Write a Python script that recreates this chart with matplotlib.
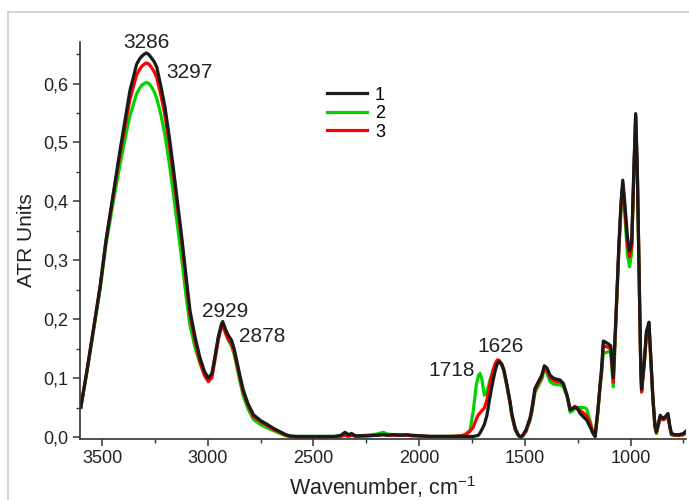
import matplotlib
matplotlib.use("Agg")
import matplotlib.pyplot as plt
from matplotlib.ticker import MultipleLocator, FuncFormatter
from matplotlib.lines import Line2D

plt.rcParams['font.family'] = ['Liberation Sans', 'DejaVu Sans']
plt.rcParams['mathtext.fontset'] = 'custom'
plt.rcParams['mathtext.rm'] = 'Liberation Sans'
plt.rcParams['mathtext.it'] = 'Liberation Sans'

# wavenumber grid, cm-1
wavenumber = [
    3600, 3570, 3541, 3509, 3481, 3450, 3415, 3390, 3368, 3336,
    3322, 3310, 3300, 3290, 3278, 3265, 3253, 3241, 3220, 3202, 3180, 3163, 3140, 3123,
    3100, 3084, 3060, 3037, 3015, 2997, 2980, 2966, 2950, 2935,
    2929, 2915, 2903, 2887, 2875, 2863, 2845, 2832, 2810, 2784,
    2750, 2721, 2690, 2658, 2630, 2611, 2580, 2500, 2400, 2370,
    2351, 2335, 2320, 2300, 2250, 2200, 2170, 2150, 2120, 2090,
    2060, 2030, 2000, 1950, 1900, 1850, 1800, 1780, 1759, 1744,
    1730, 1720, 1712, 1703, 1692, 1680, 1665, 1650, 1640, 1630,
    1621, 1610, 1600, 1586, 1570, 1562, 1545, 1530, 1520, 1510,
    1495, 1476, 1468, 1452, 1436, 1420, 1408, 1395, 1381, 1365,
    1349, 1334, 1318, 1300, 1286, 1275, 1263, 1250, 1239, 1220,
    1208, 1190, 1180, 1168, 1155, 1145, 1137, 1129, 1118, 1105,
    1094, 1082, 1070, 1055, 1045, 1037, 1028, 1015, 1005, 995,
    985, 976, 968, 960, 952, 948, 935, 925, 913, 905,
    895, 885, 878, 868, 860, 850, 844, 835, 823, 815,
    807, 790, 770, 750, 738,
]

# sample 1 (black)
atr_1 = [
    0.051, 0.115, 0.181, 0.255, 0.334, 0.405, 0.486, 0.540, 0.588, 0.633,
    0.642, 0.647, 0.650, 0.652, 0.649, 0.643, 0.637, 0.628, 0.593, 0.560, 0.505, 0.458, 0.391, 0.340,
    0.265, 0.215, 0.170, 0.135, 0.111, 0.100, 0.108, 0.136, 0.170, 0.192,
    0.196, 0.182, 0.173, 0.164, 0.150, 0.130, 0.100, 0.080, 0.057, 0.038,
    0.028, 0.022, 0.015, 0.009, 0.004, 0.002, 0.001, 0.001, 0.001, 0.003,
    0.008, 0.004, 0.006, 0.002, 0.002, 0.003, 0.004, 0.003, 0.004, 0.003,
    0.004, 0.003, 0.002, 0.001, 0.001, 0.001, 0.001, 0.001, 0.001, 0.001,
    0.002, 0.003, 0.007, 0.013, 0.021, 0.036, 0.068, 0.097, 0.113, 0.125,
    0.128, 0.124, 0.115, 0.091, 0.060, 0.040, 0.014, 0.003, 0.000, 0.003,
    0.012, 0.032, 0.046, 0.083, 0.094, 0.105, 0.121, 0.117, 0.105, 0.100,
    0.098, 0.097, 0.091, 0.070, 0.046, 0.048, 0.051, 0.047, 0.040, 0.033,
    0.029, 0.016, 0.008, 0.001, 0.045, 0.085, 0.118, 0.163, 0.161, 0.158,
    0.155, 0.101, 0.200, 0.330, 0.400, 0.436, 0.400, 0.340, 0.316, 0.330,
    0.450, 0.549, 0.450, 0.280, 0.120, 0.081, 0.130, 0.180, 0.195, 0.140,
    0.070, 0.020, 0.009, 0.025, 0.037, 0.032, 0.032, 0.035, 0.040, 0.020,
    0.006, 0.004, 0.004, 0.006, 0.010,
]

# sample 2 (green)
atr_2 = [
    0.050, 0.113, 0.178, 0.250, 0.326, 0.392, 0.462, 0.508, 0.545, 0.583,
    0.592, 0.598, 0.600, 0.602, 0.600, 0.594, 0.586, 0.575, 0.545, 0.512, 0.460, 0.415, 0.350, 0.302,
    0.232, 0.190, 0.152, 0.125, 0.106, 0.098, 0.106, 0.134, 0.168, 0.188,
    0.192, 0.176, 0.165, 0.154, 0.140, 0.120, 0.090, 0.070, 0.048, 0.030,
    0.021, 0.016, 0.011, 0.006, 0.002, 0.001, 0.001, 0.001, 0.001, 0.002,
    0.004, 0.002, 0.003, 0.002, 0.003, 0.005, 0.008, 0.005, 0.004, 0.004,
    0.003, 0.002, 0.002, 0.001, 0.001, 0.001, 0.002, 0.005, 0.012, 0.045,
    0.088, 0.104, 0.108, 0.097, 0.071, 0.076, 0.097, 0.114, 0.123, 0.129,
    0.128, 0.122, 0.112, 0.087, 0.056, 0.036, 0.011, 0.002, 0.000, 0.002,
    0.009, 0.028, 0.040, 0.076, 0.087, 0.098, 0.116, 0.108, 0.094, 0.090,
    0.089, 0.089, 0.085, 0.068, 0.042, 0.044, 0.049, 0.050, 0.050, 0.050,
    0.048, 0.025, 0.008, 0.001, 0.040, 0.082, 0.108, 0.145, 0.143, 0.145,
    0.144, 0.085, 0.190, 0.320, 0.390, 0.425, 0.380, 0.310, 0.289, 0.312,
    0.440, 0.545, 0.445, 0.275, 0.115, 0.076, 0.125, 0.175, 0.188, 0.135,
    0.066, 0.017, 0.006, 0.021, 0.033, 0.030, 0.029, 0.031, 0.034, 0.017,
    0.004, 0.003, 0.003, 0.004, 0.008,
]

# sample 3 (red)
atr_3 = [
    0.051, 0.115, 0.181, 0.255, 0.333, 0.403, 0.480, 0.530, 0.573, 0.615,
    0.624, 0.630, 0.633, 0.635, 0.633, 0.627, 0.620, 0.610, 0.578, 0.546, 0.492, 0.447, 0.382, 0.333,
    0.258, 0.208, 0.163, 0.128, 0.104, 0.094, 0.101, 0.130, 0.165, 0.187,
    0.190, 0.176, 0.166, 0.158, 0.145, 0.125, 0.096, 0.076, 0.054, 0.035,
    0.026, 0.020, 0.013, 0.008, 0.003, 0.001, 0.000, 0.000, 0.000, 0.001,
    0.003, 0.001, 0.003, 0.001, 0.002, 0.003, 0.004, 0.003, 0.003, 0.003,
    0.003, 0.002, 0.002, 0.001, 0.001, 0.001, 0.002, 0.004, 0.010, 0.017,
    0.030, 0.038, 0.041, 0.045, 0.049, 0.062, 0.091, 0.113, 0.125, 0.131,
    0.130, 0.124, 0.114, 0.090, 0.058, 0.038, 0.012, 0.002, 0.000, 0.002,
    0.010, 0.030, 0.043, 0.080, 0.091, 0.102, 0.118, 0.113, 0.101, 0.096,
    0.094, 0.094, 0.089, 0.070, 0.047, 0.049, 0.052, 0.049, 0.045, 0.040,
    0.036, 0.022, 0.010, 0.001, 0.043, 0.086, 0.112, 0.155, 0.154, 0.152,
    0.150, 0.093, 0.195, 0.325, 0.395, 0.430, 0.392, 0.328, 0.306, 0.322,
    0.445, 0.545, 0.447, 0.277, 0.118, 0.077, 0.126, 0.176, 0.190, 0.137,
    0.068, 0.018, 0.007, 0.022, 0.034, 0.030, 0.030, 0.032, 0.036, 0.018,
    0.004, 0.003, 0.003, 0.004, 0.008,
]

series_labels = ['1', '2', '3']
series_colors = ['#1a1a1a', '#00d400', '#ff0000']

fig = plt.figure(figsize=(6.89, 5.0), dpi=100)
ax = fig.add_axes([80 / 689, 1 - 438.5 / 500, 606 / 689, 396.5 / 500])

# draw green, red, then black on top; legend in order 1, 2, 3
lw = 2.3
h2, = ax.plot(wavenumber, atr_2, color=series_colors[1], lw=lw, label=series_labels[1])
h3, = ax.plot(wavenumber, atr_3, color=series_colors[2], lw=lw, label=series_labels[2])
h1, = ax.plot(wavenumber, atr_1, color=series_colors[0], lw=lw, label=series_labels[0])

ax.set_xlim(3604, 738)
ax.set_ylim(-0.0025, 0.6706)

ax.xaxis.set_major_locator(MultipleLocator(500))
ax.xaxis.set_minor_locator(MultipleLocator(250))
ax.yaxis.set_major_locator(MultipleLocator(0.1))
ax.yaxis.set_minor_locator(MultipleLocator(0.05))
ax.yaxis.set_major_formatter(FuncFormatter(lambda v, p: f"{v:.1f}".replace('.', ',')))

for s in ['top', 'right']:
    ax.spines[s].set_visible(False)
for s in ['left', 'bottom']:
    ax.spines[s].set_color('#333333')
    ax.spines[s].set_linewidth(1.2)
ax.tick_params(which='major', direction='out', length=5, width=1.1, color='#333333',
               labelsize=13, labelcolor='#222222')
ax.tick_params(which='minor', direction='out', length=3, width=1.0, color='#333333')

ax.set_xlabel('Wavenumber, cm$^{-1}$', fontsize=15.5, color='#222222', labelpad=5)
ax.set_ylabel('ATR Units', fontsize=15, color='#222222', labelpad=5)

# peak labels
for txt, xx, yy in [('3286', 3289, 0.670), ('3297', 3088, 0.619),
                    ('2929', 2920, 0.213), ('2878', 2742, 0.170),
                    ('1626', 1617, 0.154), ('1718', 1848, 0.113)]:
    ax.text(xx, yy, txt, ha='center', va='center', fontsize=15, color='#222222',
            clip_on=False)

ax.legend(handles=[h1, h2, h3], loc='upper left', bbox_to_anchor=(0.4076, 0.887),
          frameon=False, fontsize=13, handlelength=2.2, handletextpad=0.45,
          labelspacing=0.08, borderpad=0, borderaxespad=0)

# light frame around the picture
fig.add_artist(Line2D([8 / 689, 8 / 689], [0, 1 - 12 / 500], transform=fig.transFigure,
                      color='#cccccc', lw=1.2))
fig.add_artist(Line2D([8 / 689, 1], [1 - 12 / 500, 1 - 12 / 500], transform=fig.transFigure,
                      color='#cccccc', lw=1.2))

fig.savefig('out.png', dpi=100)
